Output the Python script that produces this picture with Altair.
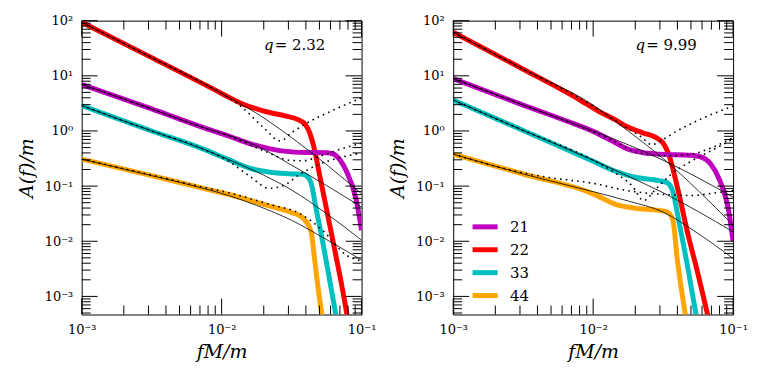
import math
import altair as alt
import pandas as pd

FONT = "DejaVu Serif"
modes = ["21", "22", "33", "44"]
colors = ["#BF00BF", "#FF0000", "#00BFBF", "#FFA500"]

# ---------- values: (log10 fM/m, log10 A/m) ----------
# left panel, q = 2.32
left_nr = {
    "22": ([-3, -2.5, -2.0, -1.94, -1.85, -1.75, -1.65, -1.54, -1.45, -1.40, -1.37, -1.34, -1.30, -1.20, -1.12, -1.10],
           [1.97, 1.33, 0.68, 0.60, 0.49, 0.40, 0.33, 0.27, 0.20, 0.11, -0.04, -0.30, -0.80, -2.05, -3.1, -3.4]),
    "21": ([-3, -2.5, -2.13, -1.94, -1.80, -1.66, -1.54, -1.40, -1.25, -1.20, -1.15, -1.11, -1.04, -1.0],
           [0.845, 0.40, 0.06, -0.10, -0.23, -0.32, -0.37, -0.39, -0.395, -0.42, -0.54, -0.72, -1.23, -1.8]),
    "33": ([-3, -2.5, -2.13, -1.95, -1.78, -1.65, -1.50, -1.42, -1.39, -1.36, -1.325, -1.278, -1.23, -1.20, -1.18],
           [0.46, 0.0, -0.33, -0.52, -0.69, -0.75, -0.78, -0.785, -0.82, -0.95, -1.41, -2.01, -2.68, -3.1, -3.4]),
    "44": ([-3, -2.5, -2.13, -1.95, -1.66, -1.50, -1.44, -1.40, -1.36, -1.337, -1.313, -1.28],
           [-0.51, -0.81, -1.04, -1.15, -1.36, -1.48, -1.54, -1.63, -1.83, -2.3, -2.8, -3.4]),
}
left_pn = {
    "22": ([-3, -2.5, -2.0, -1.75, -1.5, -1.25, -1.0], [1.97, 1.33, 0.68, 0.32, -0.12, -0.61, -1.14]),
    "21": ([-3, -2.5, -2.13, -1.94, -1.75, -1.5, -1.25, -1.0], [0.845, 0.40, 0.06, -0.09, -0.27, -0.62, -0.99, -1.38]),
    "33": ([-3, -2.5, -2.13, -1.95, -1.75, -1.5, -1.25, -1.0], [0.46, 0.0, -0.33, -0.52, -0.74, -1.07, -1.50, -1.98]),
    "44": ([-3, -2.5, -2.13, -1.95, -1.75, -1.5, -1.25, -1.0], [-0.51, -0.81, -1.04, -1.17, -1.35, -1.62, -1.97, -2.34]),
}
left_dot = {
    "22": ([-3, -2.5, -2.0, -1.85, -1.70, -1.58, -1.50, -1.40, -1.2, -1.0], [1.97, 1.33, 0.68, 0.42, 0.06, -0.18, -0.03, 0.13, 0.38, 0.60]),
    "21": ([-3, -2.5, -2.13, -1.94, -1.80, -1.66, -1.52, -1.42, -1.3, -1.15, -1.0], [0.845, 0.40, 0.06, -0.10, -0.25, -0.40, -0.53, -0.54, -0.46, -0.33, -0.22]),
    "33": ([-3, -2.5, -2.13, -1.95, -1.8, -1.66, -1.55, -1.45, -1.3, -1.15, -1.0], [0.46, 0.0, -0.33, -0.55, -0.82, -1.04, -0.98, -0.80, -0.60, -0.48, -0.40]),
    "44": ([-3, -2.5, -2.13, -1.95, -1.66, -1.44, -1.28, -1.11, -1.0], [-0.51, -0.80, -1.02, -1.12, -1.33, -1.50, -1.80, -2.25, -2.36]),
}

# right panel, q = 9.99
right_nr = {
    "22": ([-3, -2.5, -2.1, -1.97, -1.84, -1.76, -1.65, -1.55, -1.50, -1.46, -1.40, -1.32, -1.25, -1.18],
           [1.79, 1.12, 0.57, 0.37, 0.20, 0.08, -0.03, -0.12, -0.22, -0.42, -1.0, -1.9, -2.6, -3.35]),
    "21": ([-3, -2.5, -2.2, -1.98, -1.85, -1.76, -1.65, -1.52, -1.30, -1.22, -1.16, -1.10, -1.03, -1.0],
           [0.95, 0.47, 0.19, -0.03, -0.20, -0.32, -0.39, -0.42, -0.44, -0.48, -0.60, -0.87, -1.47, -2.0]),
    "33": ([-3, -2.5, -2.0, -1.83, -1.70, -1.53, -1.47, -1.43, -1.39, -1.315, -1.26],
           [0.56, 0.01, -0.55, -0.74, -0.84, -0.90, -0.94, -1.1, -1.6, -2.6, -3.4]),
    "44": ([-3, -2.5, -2.0, -1.84, -1.70, -1.53, -1.47, -1.43, -1.40, -1.34],
           [-0.42, -0.78, -1.14, -1.33, -1.40, -1.44, -1.47, -1.62, -2.3, -3.35]),
}
right_pn = {
    "22": ([-3, -2.5, -2.0, -1.75, -1.5, -1.25, -1.0], [1.79, 1.12, 0.47, 0.0, -0.50, -1.08, -1.71]),
    "21": ([-3, -2.5, -2.0, -1.75, -1.5, -1.25, -1.0], [0.95, 0.47, 0.0, -0.25, -0.53, -0.85, -1.2]),
    "33": ([-3, -2.5, -2.0, -1.75, -1.5, -1.25, -1.0], [0.56, 0.01, -0.53, -0.82, -1.12, -1.46, -1.83]),
    "44": ([-3, -2.5, -2.0, -1.75, -1.5, -1.25, -1.0], [-0.42, -0.78, -1.10, -1.27, -1.47, -1.86, -2.31]),
}
right_dot = {
    "22": ([-3, -2.5, -2.0, -1.8, -1.65, -1.58, -1.52, -1.4, -1.2, -1.0], [1.79, 1.12, 0.45, 0.12, -0.12, -0.25, -0.18, 0.0, 0.25, 0.45]),
    "21": ([-3, -2.5, -2.0, -1.8, -1.7, -1.5, -1.3, -1.15, -1.0], [0.95, 0.47, -0.02, -0.25, -0.38, -0.45, -0.42, -0.30, -0.12]),
    "33": ([-3, -2.5, -2.0, -1.85, -1.72, -1.64, -1.55, -1.45, -1.3, -1.15, -1.0], [0.56, 0.01, -0.53, -0.75, -1.0, -1.26, -1.05, -0.80, -0.55, -0.35, -0.15]),
    "44": ([-3, -2.5, -2.3, -2.0, -1.76, -1.5, -1.29, -1.15, -1.0], [-0.42, -0.76, -0.85, -0.95, -1.08, -1.15, -1.17, -1.13, -1.08]),
}

q_labels = ["2.32", "9.99"]
q_pos = (-1.698, 1.464)  # log10 position of the label "q"

x_major = [1e-3, 1e-2, 1e-1]
x_major_labels = ["10⁻³", "10⁻²", "10⁻¹"]
y_exps = [2, 1, 0, -1, -2, -3]
y_major_labels = ["10²", "10¹", "10⁰", "10⁻¹", "10⁻²", "10⁻³"]

YMIN, YMAX = 4.7e-4, 100.0
W, H = 281, 295
MAJ, MIN = 16, 9

x_minor = [k * 10.0 ** e for e in (-3, -2) for k in range(2, 10)]
y_major = [10.0 ** e for e in y_exps]
y_minor = [k * 10.0 ** e for e in range(-4, 2) for k in range(2, 10) if YMIN <= k * 10.0 ** e <= YMAX]


def frame(curves, kind):
    rows = []
    for m, (lf, la) in curves.items():
        for a, b in zip(lf, la):
            rows.append({"f": 10.0 ** a, "A": 10.0 ** b, "mode": m, "kind": kind, "order": a})
    return rows


def lab_expr(vals, labels):
    expr = "''"
    for v, l in zip(vals, labels):
        expr = f"abs(log(datum.value)/LN10 - ({v})) < 0.01 ? '{l}' : " + expr
    return expr


xscale = alt.Scale(type="log", domain=[1e-3, 1e-1], nice=False)
yscale = alt.Scale(type="log", domain=[YMIN, YMAX], nice=False)

xaxis = alt.Axis(values=x_major, labelExpr=lab_expr([round(math.log10(v)) for v in x_major], x_major_labels),
                 ticks=False, grid=False, domain=False, title="fM/m", titleFont=FONT, titleFontSize=19,
                 titleFontStyle="italic", titleFontWeight="normal", titleColor="black",
                 labelFont=FONT, labelFontSize=13, labelColor="black", labelPadding=9, titlePadding=6,
                 labelFlush=False, labelOverlap=False)
yaxis = alt.Axis(values=y_major, labelExpr=lab_expr(y_exps, y_major_labels),
                 ticks=False, grid=False, domain=False, title="A(f)/m", titleFont=FONT, titleFontSize=19,
                 titleFontStyle="italic", titleFontWeight="normal", titleColor="black",
                 labelFont=FONT, labelFontSize=13, labelColor="black", labelPadding=9, titlePadding=8,
                 labelFlush=False, labelOverlap=False)

X = lambda fld: alt.X(fld, scale=xscale, axis=xaxis)
Y = lambda fld: alt.Y(fld, scale=yscale, axis=yaxis)


def panel(nr, pn, dot, qlab, legend):
    df = pd.DataFrame(frame(nr, "nr") + frame(pn, "pn") + frame(dot, "dot"))
    base = alt.Chart(df)
    enc = dict(x=X("f:Q"), y=Y("A:Q"), order=alt.Order("order:Q"))
    col = base.transform_filter("datum.kind == 'nr'").mark_line(
        strokeWidth=5, clip=True, interpolate="monotone").encode(
        color=alt.Color("mode:N", scale=alt.Scale(domain=modes, range=colors), legend=legend), **enc)
    thin = base.transform_filter("datum.kind == 'pn'").mark_line(
        strokeWidth=0.8, color="black", clip=True, interpolate="monotone").encode(detail="mode:N", **enc)
    dots = base.transform_filter("datum.kind == 'dot'").mark_line(
        strokeWidth=1.6, color="black", clip=True, interpolate="monotone", strokeDash=[1.6, 4.2],
        strokeCap="butt").encode(detail="mode:N", **enc)

    tk = dict(color="black", strokeWidth=1)
    layers = []
    for vals, L in ((x_major, MAJ), (x_minor, MIN)):
        c = alt.Chart(pd.DataFrame({"f": vals}))
        layers.append(c.mark_rule(**tk).encode(x=X("f:Q"), y=alt.value(H), y2=alt.value(H - L)))
        layers.append(c.mark_rule(**tk).encode(x=X("f:Q"), y=alt.value(0), y2=alt.value(L)))
    for vals, L in ((y_major, MAJ), (y_minor, MIN)):
        c = alt.Chart(pd.DataFrame({"A": vals}))
        layers.append(c.mark_rule(**tk).encode(y=Y("A:Q"), x=alt.value(0), x2=alt.value(L)))
        layers.append(c.mark_rule(**tk).encode(y=Y("A:Q"), x=alt.value(W), x2=alt.value(W - L)))

    qdf = pd.DataFrame({"f": [10 ** q_pos[0]], "A": [10 ** q_pos[1]], "q": ["q"], "val": ["= " + qlab]})
    qc = alt.Chart(qdf)
    qt1 = qc.mark_text(font=FONT, fontSize=15, fontStyle="italic", align="left", baseline="alphabetic",
                       color="black").encode(x=X("f:Q"), y=Y("A:Q"), text="q:N")
    qt2 = qc.mark_text(font=FONT, fontSize=15, align="left", baseline="alphabetic", dx=11,
                       color="black").encode(x=X("f:Q"), y=Y("A:Q"), text="val:N")
    return alt.layer(col, thin, dots, *layers, qt1, qt2).properties(width=W, height=H)


leg = alt.Legend(orient="none", legendX=19, legendY=194, title=None, symbolType="M-1.2,0H1.2",
                 symbolSize=440, symbolStrokeWidth=5, labelFont=FONT, labelFontSize=15,
                 labelColor="black", labelOffset=12, rowPadding=0, padding=0)

left = panel(left_nr, left_pn, left_dot, q_labels[0], None)
right = panel(right_nr, right_pn, right_dot, q_labels[1], leg)

chart = alt.hconcat(left, right, spacing=11).resolve_scale(color="independent").configure_view(
    stroke="black", strokeWidth=1).properties(padding={"left": 8, "top": 5, "right": 5, "bottom": 5})

chart.save("out.html", embed_options={"renderer": "svg", "actions": False})
